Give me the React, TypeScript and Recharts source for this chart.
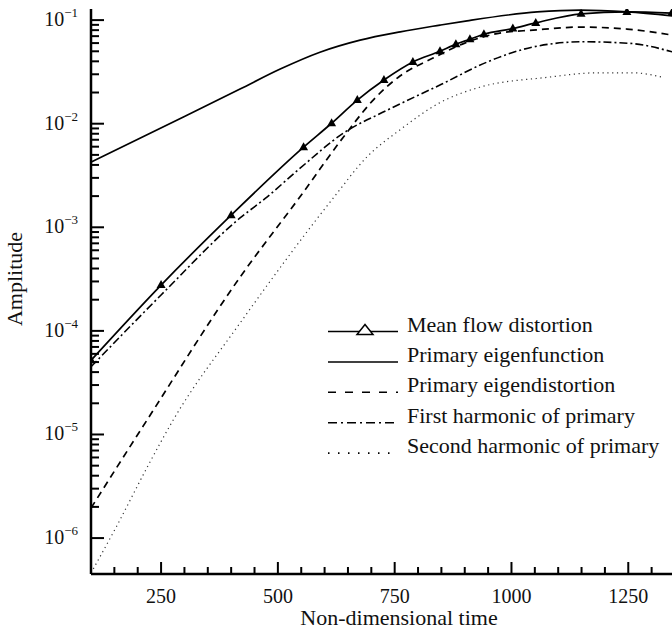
import { LineChart, Line, XAxis, YAxis, Legend } from "recharts"

const FONT = '"Liberation Serif", "DejaVu Serif", "Times New Roman", serif'

// Mean flow distortion (solid, triangles)
const meanFlowTime = [100, 250, 400, 555, 615, 670, 727, 789, 847, 881, 911, 941, 1003, 1052, 1149, 1247, 1343]
const meanFlowAmp = [5.2e-5, 2.77e-4, 1.31e-3, 5.94e-3, 1.01e-2, 1.69e-2, 2.64e-2, 3.94e-2, 5.0e-2, 5.86e-2, 6.54e-2, 7.3e-2, 8.3e-2, 9.4e-2, 0.115, 0.12, 0.117]

// Primary eigenfunction (solid)
const eigenTime = [100, 300, 419, 505, 590, 676, 762, 847, 905, 1055, 1147, 1248, 1344]
const eigenAmp = [4.26e-3, 1.175e-2, 2.16e-2, 3.37e-2, 4.9e-2, 6.41e-2, 7.71e-2, 8.95e-2, 9.85e-2, 0.12, 0.125, 0.12, 0.11]

// Primary eigendistortion (dashed)
const distortionTime = [100, 220, 419, 547, 640, 704, 762, 832, 900, 975, 1046, 1147, 1247, 1344]
const distortionAmp = [1.95e-6, 1.38e-5, 3.3e-4, 1.96e-3, 7.4e-3, 1.69e-2, 2.9e-2, 4.3e-2, 6.0e-2, 7.5e-2, 8.0e-2, 8.56e-2, 8.2e-2, 7.16e-2]

// First harmonic of primary (dash-dot)
const firstTime = [100, 250, 419, 473, 547, 640, 734, 850, 948, 1046, 1153, 1254, 1344]
const firstAmp = [4.5e-5, 2.22e-4, 1.23e-3, 1.9e-3, 3.7e-3, 8.1e-3, 1.35e-2, 2.4e-2, 3.94e-2, 5.5e-2, 6.18e-2, 5.96e-2, 4.94e-2]

// Second harmonic of primary (dotted)
const secondTime = [100, 156, 220, 276, 419, 618, 691, 761, 845, 932, 1076, 1183, 1260, 1324]
const secondAmp = [4.6e-7, 1.33e-6, 4.8e-6, 1.38e-5, 1.19e-4, 1.9e-3, 4.8e-3, 8.7e-3, 1.58e-2, 2.25e-2, 2.8e-2, 3.1e-2, 3.1e-2, 2.8e-2]

const xMajor = [250, 500, 750, 1000, 1250]
const xTicks = [150, 200, 250, 300, 350, 400, 450, 500, 550, 600, 650, 700, 750, 800, 850, 900, 950, 1000, 1050, 1100, 1150, 1200, 1250, 1300]
const decades = [-6, -5, -4, -3, -2]
const mantissas = [1, 2, 3, 4, 5, 6, 7, 8, 9]

const yTicks: number[] = []
decades.forEach(e => mantissas.forEach(m => yTicks.push(m * Math.pow(10, e))))
yTicks.push(0.1)

const toRows = (ts: number[], vs: number[]) => ts.map((t, i) => ({ t, v: vs[i] }))

const legendItems = [
  { name: "Mean flow distortion", kind: "tri" },
  { name: "Primary eigenfunction", kind: "solid" },
  { name: "Primary eigendistortion", kind: "dash" },
  { name: "First harmonic of primary", kind: "dashdot" },
  { name: "Second harmonic of primary", kind: "dot" }
]

const dashFor: Record<string, string | undefined> = {
  solid: undefined,
  tri: undefined,
  dash: "8 9",
  dashdot: "9 4 2 4",
  dot: "1.5 8.5"
}

const XTick = (props: any) => {
  const { x, y, payload } = props
  const major = xMajor.includes(payload.value)
  return (
    <g>
      <line x1={x} y1={y} x2={x} y2={y - (major ? 12 : 7)} stroke="#000" strokeWidth={2} />
      {major && (
        <text x={x} y={y + 29} textAnchor="middle" fontSize={20} fontFamily={FONT} fill="#111">
          {payload.value}
        </text>
      )}
    </g>
  )
}

const YTick = (props: any) => {
  const { x, y, payload } = props
  const lg = Math.log10(payload.value)
  const major = Math.abs(lg - Math.round(lg)) < 1e-6
  return (
    <g>
      <line x1={x} y1={y} x2={x + (major ? 13 : 8)} y2={y} stroke="#000" strokeWidth={2} />
      {major && (
        <text x={x - 13} y={y + 6} textAnchor="end" fontSize={20} fontFamily={FONT} fill="#111">
          10
          <tspan dy={-9} fontSize={13}>{`\u2212${Math.abs(Math.round(lg))}`}</tspan>
        </text>
      )}
    </g>
  )
}

const Triangle = (props: any) => {
  const { cx, cy, index } = props
  if (cx == null || cy == null) return <g key={`tri-${index}`} />
  return (
    <path
      key={`tri-${index}`}
      d={`M${cx},${cy - 5} L${cx - 4.5},${cy + 3} L${cx + 4.5},${cy + 3} Z`}
      fill="#000"
    />
  )
}

const LegendBox = () => (
  <svg width={352} height={170}>
    {legendItems.map((item, i) => {
      const b = 31.5 + i * 30.4
      return (
        <g key={item.name}>
          <line
            x1={8}
            y1={b}
            x2={78}
            y2={b}
            stroke="#000"
            strokeWidth={item.kind === "dot" ? 1.6 : 1.5}
            strokeDasharray={dashFor[item.kind]}
          />
          {item.kind === "tri" && (
            <path d={`M45,${b - 7} L37,${b + 3} L53,${b + 3} Z`} fill="#fff" stroke="#000" strokeWidth={1.5} />
          )}
          <text x={87} y={b} fontSize={22} fontFamily={FONT} fill="#111">
            {item.name}
          </text>
        </g>
      )
    })}
  </svg>
)

export default function App() {
  return (
    <div style={{ position: "absolute", left: 0, top: 0, width: 672, height: 635, background: "#fff" }}>
      <LineChart width={672} height={635} margin={{ top: 9, right: 0, bottom: 0, left: 0 }}>
        <XAxis
          type="number"
          dataKey="t"
          domain={[100, 1343.6]}
          allowDataOverflow
          ticks={xTicks}
          interval={0}
          tick={<XTick />}
          tickLine={false}
          tickSize={0}
          tickMargin={0}
          height={61}
          axisLine={{ stroke: "#000", strokeWidth: 2.5 }}
          label={() => (
            <text x={399} y={625} textAnchor="middle" fontSize={22} fontFamily={FONT} fill="#111">
              Non-dimensional time
            </text>
          )}
        />
        <YAxis
          type="number"
          dataKey="v"
          scale="log"
          domain={[4.5e-7, 0.128]}
          allowDataOverflow
          ticks={yTicks}
          interval={0}
          tick={<YTick />}
          tickLine={false}
          tickSize={0}
          tickMargin={0}
          width={91}
          axisLine={{ stroke: "#000", strokeWidth: 2.5 }}
          label={() => (
            <text
              x={22}
              y={279}
              textAnchor="middle"
              fontSize={22}
              fontFamily={FONT}
              fill="#111"
              transform="rotate(-90, 22, 279)"
            >
              Amplitude
            </text>
          )}
        />
        <Legend
          layout="vertical"
          align="center"
          verticalAlign="middle"
          content={() => <LegendBox />}
          wrapperStyle={{ left: 320, top: 300, width: 352, height: 170 }}
        />
        <Line
          data={toRows(eigenTime, eigenAmp)}
          dataKey="v"
          name="Primary eigenfunction"
          type="monotone"
          stroke="#000"
          strokeWidth={1.7}
          dot={false}
          isAnimationActive={false}
        />
        <Line
          data={toRows(distortionTime, distortionAmp)}
          dataKey="v"
          name="Primary eigendistortion"
          type="monotone"
          stroke="#000"
          strokeWidth={1.7}
          strokeDasharray="7 5"
          dot={false}
          isAnimationActive={false}
        />
        <Line
          data={toRows(firstTime, firstAmp)}
          dataKey="v"
          name="First harmonic of primary"
          type="monotone"
          stroke="#000"
          strokeWidth={1.6}
          strokeDasharray="8 3 2 3"
          dot={false}
          isAnimationActive={false}
        />
        <Line
          data={toRows(secondTime, secondAmp)}
          dataKey="v"
          name="Second harmonic of primary"
          type="monotone"
          stroke="#333"
          strokeWidth={1.2}
          strokeDasharray="1.2 3.6"
          dot={false}
          isAnimationActive={false}
        />
        <Line
          data={toRows(meanFlowTime, meanFlowAmp)}
          dataKey="v"
          name="Mean flow distortion"
          type="monotone"
          stroke="#000"
          strokeWidth={1.7}
          dot={(p: any) => <Triangle {...p} />}
          activeDot={false}
          isAnimationActive={false}
        />
      </LineChart>
    </div>
  )
}
